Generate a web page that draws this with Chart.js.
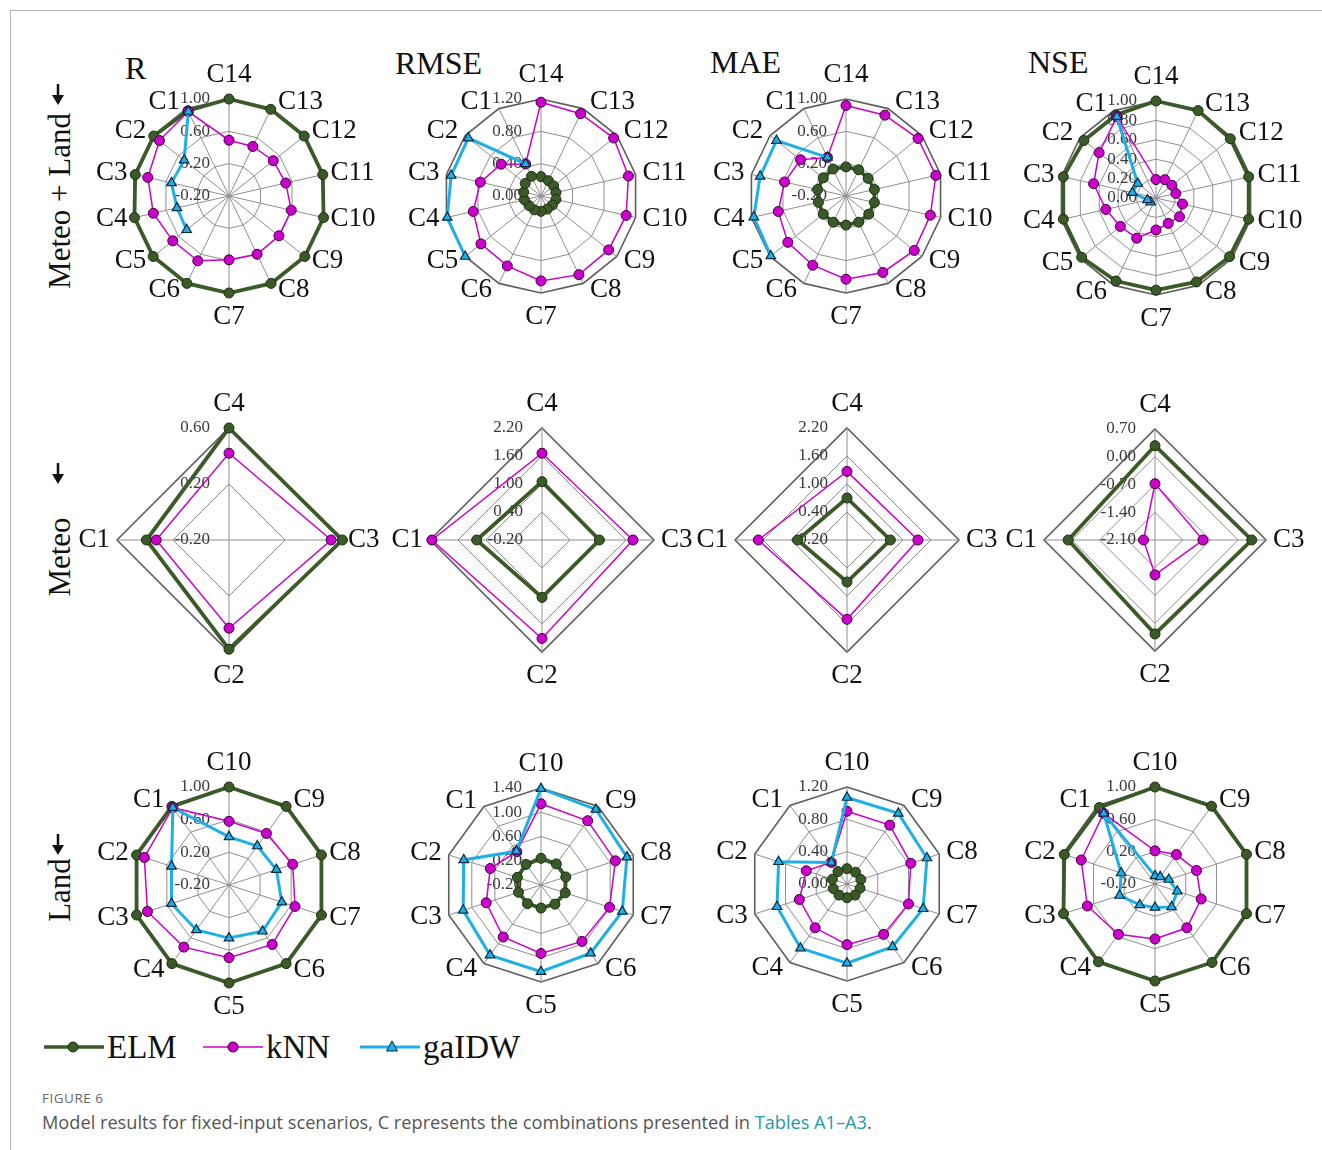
<!DOCTYPE html>
<html>
<head>
<meta charset="utf-8">
<script src="https://cdn.jsdelivr.net/npm/chart.js@4.4.1/dist/chart.umd.min.js"></script>
<style>
  body { margin: 0; background: #fff; }
  #fig { position: relative; width: 1322px; height: 1150px; overflow: hidden; }
  #frame { position: absolute; left: 10px; top: 10px; width: 1320px; height: 1150px;
           border-top: 1px solid #b8b8b8; border-left: 1px solid #b8b8b8; }
  .title { position: absolute; font: 32px "Liberation Serif", serif; color: #111; line-height: 32px; }
  .rowlab { position: absolute; font: 31px "Liberation Serif", serif; color: #111; white-space: nowrap;
            transform: translate(-50%, -50%) rotate(-90deg); line-height: 32px; }
  .arrow { position: absolute; }
  canvas { position: absolute; }
  .leg { position: absolute; top: 1029px; height: 36px; display: flex; align-items: center;
         font: 33px "Liberation Serif", serif; color: #111; }
  .leg svg { margin-right: 3px; }
  #cap1 { position: absolute; left: 42px; top: 1089px; font: 13.5px "Open Sans", sans-serif; color: #666; letter-spacing: 0.5px; }
  #cap2 { position: absolute; left: 42px; top: 1110px; font: 18.2px "Open Sans", sans-serif; color: #555; }
  #cap2 span { color: #1f9aa6; }
</style>
</head>
<body>
<div id="fig">
  <div id="frame"></div>
  <div class="title" style="left:125px;top:52px">R</div>
  <div class="title" style="left:395px;top:47px">RMSE</div>
  <div class="title" style="left:710px;top:46px">MAE</div>
  <div class="title" style="left:1028px;top:46px">NSE</div>

  <div class="rowlab" style="left:60px;top:201px">Meteo + Land</div>
  <div class="rowlab" style="left:60px;top:557px">Meteo</div>
  <div class="rowlab" style="left:60px;top:890px">Land</div>
  <svg class="arrow" style="left:50px;top:84px" width="16" height="22"><line x1="8" y1="0" x2="8" y2="12" stroke="#111" stroke-width="2.5"/><path d="M2 11 L14 11 L8 21 Z" fill="#111"/></svg>
  <svg class="arrow" style="left:50px;top:463px" width="16" height="22"><line x1="8" y1="0" x2="8" y2="12" stroke="#111" stroke-width="2.5"/><path d="M2 11 L14 11 L8 21 Z" fill="#111"/></svg>
  <svg class="arrow" style="left:50px;top:834px" width="16" height="22"><line x1="8" y1="0" x2="8" y2="12" stroke="#111" stroke-width="2.5"/><path d="M2 11 L14 11 L8 21 Z" fill="#111"/></svg>

  <div class="leg" style="left:44px"><svg width="60" height="20"><line x1="0" y1="10" x2="60" y2="10" stroke="#3a5a28" stroke-width="3.5"/><circle cx="29" cy="10" r="5" fill="#3a5a28" stroke="#1c2e12"/></svg>ELM</div>
  <div class="leg" style="left:203px"><svg width="60" height="20"><line x1="0" y1="10" x2="60" y2="10" stroke="#cc00cc" stroke-width="1.5"/><circle cx="30" cy="10" r="5" fill="#cc00cc" stroke="#3d003d"/></svg>kNN</div>
  <div class="leg" style="left:360px"><svg width="60" height="20"><line x1="0" y1="10" x2="60" y2="10" stroke="#1cb0e6" stroke-width="3"/><path d="M32 4 L37.5 14 L26.5 14 Z" fill="#1cb0e6" stroke="#0b2a40"/></svg>gaIDW</div>

  <div id="cap1">FIGURE 6</div>
  <div id="cap2">Model results for fixed-input scenarios, C represents the combinations presented in <span>Tables A1–A3</span>.</div>
</div>

<script>
// categories (natural order, drawn counter-clockwise from the top)
const combos14 = ['C1','C2','C3','C4','C5','C6','C7','C8','C9','C10','C11','C12','C13','C14'];
const combos4 = ['C1','C2','C3','C4'];
const combos10 = ['C1','C2','C3','C4','C5','C6','C7','C8','C9','C10'];

// Meteo + Land (C1..C14)
const rElm1    = [0.97, 0.99, 0.99, 1.00, 1.00, 1.00, 1.00, 1.00, 1.00, 1.00, 0.99, 0.99, 0.99, 1.00];
const rKnn1    = [0.96, 0.90, 0.83, 0.76, 0.69, 0.69, 0.59, 0.60, 0.59, 0.59, 0.52, 0.50, 0.48, 0.49];
const rGa1     = [0.96, 0.51, 0.53, 0.46, 0.47, null, null, null, null, null, null, null, null, null];
const rmseElm1 = [0.27, 0.25, 0.22, 0.21, 0.19, 0.19, 0.19, 0.18, 0.18, 0.19, 0.19, 0.20, 0.21, 0.24];
const rmseKnn1 = [0.44, 0.63, 0.77, 0.86, 0.95, 0.96, 1.05, 1.08, 1.07, 1.08, 1.11, 1.15, 1.13, 1.16];
const rmseGa1  = [0.44, 1.15, 1.14, 1.19, 1.20, null, null, null, null, null, null, null, null, null];
const maeElm1  = [0.17, 0.16, 0.16, 0.15, 0.16, 0.16, 0.16, 0.16, 0.16, 0.16, 0.16, 0.15, 0.16, 0.16];
const maeKnn1  = [0.33, 0.52, 0.58, 0.66, 0.72, 0.75, 0.83, 0.85, 0.88, 0.87, 0.94, 0.94, 0.91, 0.92];
const maeGa1   = [0.33, 0.90, 0.89, 0.97, 0.99, null, null, null, null, null, null, null, null, null];
const nseElm1  = [0.95, 0.95, 0.98, 0.98, 0.98, 0.95, 0.95, 0.96, 0.97, 0.98, 0.98, 0.98, 1.00, 1.00];
const nseKnn1  = [0.93, 0.75, 0.66, 0.53, 0.47, 0.46, 0.33, 0.29, 0.31, 0.28, 0.21, 0.21, 0.21, 0.19];
const nseGa1   = [0.93, 0.24, 0.25, 0.09, 0.07, null, null, null, null, null, null, null, null, null];

// Meteo (C1..C4)
const rElm2    = [0.39, 0.58, 0.61, 0.60];
const rKnn2    = [0.32, 0.43, 0.53, 0.42];
const rmseElm2 = [1.20, 1.03, 1.03, 1.05];
const rmseKnn2 = [2.16, 1.91, 1.75, 1.66];
const maeElm2  = [0.86, 0.70, 0.73, 0.70];
const maeKnn2  = [1.70, 1.50, 1.32, 1.27];
const nseElm2  = [0.09, 0.27, 0.34, 0.28];
const nseKnn2  = [-1.81, -1.22, -0.89, -0.68];

// Land (C1..C10)
const rElm3    = [0.99, 0.99, 0.99, 0.99, 1.00, 0.99, 0.99, 0.99, 0.99, 1.00];
const rKnn3    = [0.97, 0.89, 0.85, 0.74, 0.69, 0.70, 0.65, 0.62, 0.58, 0.58];
const rGa3     = [0.97, 0.54, 0.54, 0.48, 0.45, 0.50, 0.48, 0.41, 0.39, 0.39];
const rmseElm3 = [0.22, 0.21, 0.19, 0.18, 0.18, 0.19, 0.22, 0.23, 0.23, 0.24];
const rmseKnn3 = [0.48, 0.68, 0.75, 0.86, 0.93, 0.95, 0.99, 1.09, 1.11, 1.14];
const rmseGa3  = [0.49, 1.14, 1.15, 1.23, 1.23, 1.19, 1.21, 1.29, 1.34, 1.39];
const maeElm3  = [0.19, 0.19, 0.18, 0.17, 0.17, 0.17, 0.17, 0.18, 0.18, 0.19];
const maeKnn3  = [0.33, 0.53, 0.62, 0.67, 0.75, 0.77, 0.80, 0.83, 0.90, 0.90];
const maeGa3   = [0.33, 0.89, 0.91, 0.98, 0.98, 0.96, 0.99, 1.04, 1.08, 1.07];
const nseElm3  = [0.97, 0.98, 0.99, 0.99, 1.00, 1.00, 0.99, 0.99, 0.99, 1.00];
const nseKnn3  = [0.88, 0.76, 0.68, 0.57, 0.48, 0.47, 0.40, 0.34, 0.25, 0.21];
const nseGa3   = [0.88, 0.24, 0.26, 0.12, 0.09, 0.15, 0.09, -0.02, -0.09, -0.10];

// panels: position, radius and axis range
const panels = [
  {cx: 229, cy: 196, r: 97, cats: combos14, min: -0.2, max: 1.0, step: 0.4, elm: rElm1, knn: rKnn1, ga: rGa1},
  {cx: 541, cy: 196, r: 97, cats: combos14, min: 0, max: 1.2, step: 0.4, elm: rmseElm1, knn: rmseKnn1, ga: rmseGa1},
  {cx: 846, cy: 196, r: 97, cats: combos14, min: -0.2, max: 1.0, step: 0.4, elm: maeElm1, knn: maeKnn1, ga: maeGa1},
  {cx: 1156, cy: 198, r: 97, cats: combos14, min: 0, max: 1.0, step: 0.2, elm: nseElm1, knn: nseKnn1, ga: nseGa1},
  {cx: 229, cy: 540, r: 112, cats: combos4, min: -0.2, max: 0.6, step: 0.4, elm: rElm2, knn: rKnn2},
  {cx: 542, cy: 540, r: 112, cats: combos4, min: -0.2, max: 2.2, step: 0.6, elm: rmseElm2, knn: rmseKnn2},
  {cx: 847, cy: 540, r: 112, cats: combos4, min: -0.2, max: 2.2, step: 0.6, elm: maeElm2, knn: maeKnn2},
  {cx: 1155, cy: 540, r: 111, cats: combos4, min: -2.1, max: 0.7, step: 0.7, elm: nseElm2, knn: nseKnn2},
  {cx: 229, cy: 885, r: 98, cats: combos10, min: -0.2, max: 1.0, step: 0.4, elm: rElm3, knn: rKnn3, ga: rGa3},
  {cx: 541, cy: 885, r: 97, cats: combos10, min: -0.2, max: 1.4, step: 0.4, elm: rmseElm3, knn: rmseKnn3, ga: rmseGa3},
  {cx: 847, cy: 884, r: 97, cats: combos10, min: 0, max: 1.2, step: 0.4, elm: maeElm3, knn: maeKnn3, ga: maeGa3},
  {cx: 1155, cy: 884, r: 97, cats: combos10, min: -0.2, max: 1.0, step: 0.4, elm: nseElm3, knn: nseKnn3, ga: nseGa3}
];

// tick labels left of the vertical spoke, category labels outside the web
const radarText = {
  id: 'radarText',
  beforeDatasetsDraw(chart) {
    const s = chart.scales.r, ctx = chart.ctx;
    ctx.save();
    ctx.font = '17px "Liberation Serif", serif';
    ctx.fillStyle = '#3a3a3a';
    ctx.textAlign = 'right';
    ctx.textBaseline = 'middle';
    s.ticks.forEach(t => {
      const v = Math.abs(t.value) < 1e-9 ? 0 : t.value;
      const y = s.yCenter - s.getDistanceFromCenterForValue(t.value);
      ctx.fillText(v.toFixed(2), s.xCenter - 19, y);
    });
    ctx.restore();
  },
  afterDraw(chart) {
    const s = chart.scales.r, ctx = chart.ctx;
    ctx.save();
    ctx.font = '27px "Liberation Serif", serif';
    ctx.fillStyle = '#111';
    ctx.textAlign = 'center';
    ctx.textBaseline = 'middle';
    chart.data.labels.forEach((lab, i) => {
      const a = s.getIndexAngle(i);
      const v = s.getPointPosition(i, s.drawingArea);
      const w = ctx.measureText(lab).width;
      const sn = Math.sin(a), cs = Math.cos(a);
      let x, y;
      if (Math.abs(sn) < 0.05) {
        x = v.x;
        y = v.y - Math.sign(cs) * 24;
      } else {
        x = v.x + Math.sign(sn) * (w / 2 + 7);
        y = v.y - cs * 7;
      }
      ctx.fillText(lab, x, y);
    });
    ctx.restore();
  }
};

const SIZE = 330;
const fig = document.getElementById('fig');

panels.forEach(p => {
  const cv = document.createElement('canvas');
  cv.width = SIZE; cv.height = SIZE;
  cv.style.left = (p.cx - SIZE / 2) + 'px';
  cv.style.top = (p.cy - SIZE / 2) + 'px';
  fig.appendChild(cv);

  const rev = a => a.slice().reverse();
  const datasets = [{
    label: 'ELM',
    data: rev(p.elm),
    borderColor: '#3a5a28',
    borderWidth: 3.8,
    pointBackgroundColor: '#3a5a28',
    pointBorderColor: '#1c2e12',
    pointBorderWidth: 1,
    pointRadius: 5,
    order: 3
  }, {
    label: 'kNN',
    data: rev(p.knn),
    borderColor: '#cc00cc',
    borderWidth: 1.5,
    pointBackgroundColor: '#cc00cc',
    pointBorderColor: '#3d003d',
    pointBorderWidth: 1,
    pointRadius: 5,
    order: 2
  }];
  if (p.ga) {
    datasets.push({
      label: 'gaIDW',
      data: rev(p.ga),
      borderColor: '#1cb0e6',
      borderWidth: 3,
      pointStyle: 'triangle',
      pointBackgroundColor: '#1cb0e6',
      pointBorderColor: '#0b2a40',
      pointBorderWidth: 1.2,
      pointRadius: 5.5,
      order: 1
    });
  }
  const lastTick = Math.round((p.max - p.min) / p.step);

  new Chart(cv, {
    type: 'radar',
    data: {labels: rev(p.cats), datasets: datasets},
    options: {
      responsive: false,
      animation: false,
      devicePixelRatio: 1,
      layout: {padding: SIZE / 2 - p.r},
      elements: {line: {tension: 0, fill: false}},
      datasets: {radar: {clip: false, spanGaps: false}},
      plugins: {legend: {display: false}, tooltip: {enabled: false}},
      scales: {
        r: {
          min: p.min,
          max: p.max,
          beginAtZero: false,
          ticks: {display: false, stepSize: p.step},
          pointLabels: {display: false},
          grid: {
            color: c => c.index === lastTick ? '#5e5e5e' : '#8e8e8e',
            lineWidth: c => c.index === lastTick ? 1.6 : 1
          },
          angleLines: {color: '#8e8e8e', lineWidth: 1}
        }
      }
    },
    plugins: [radarText]
  });
});
</script>
</body>
</html>
